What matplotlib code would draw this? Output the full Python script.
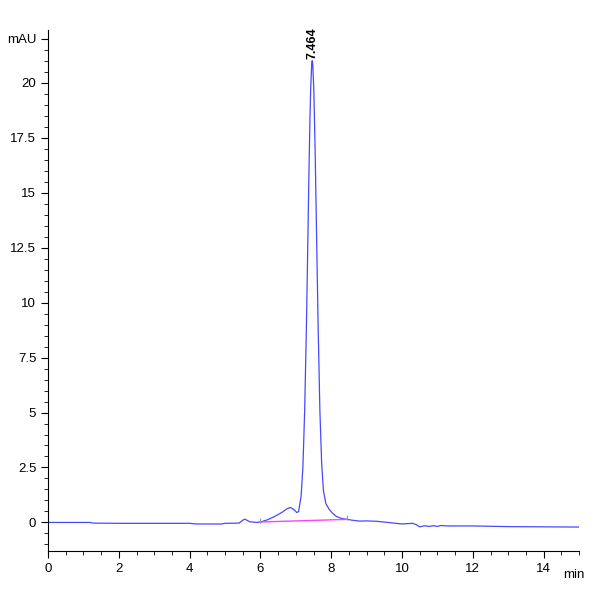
import numpy as np
import matplotlib.pyplot as plt
from matplotlib.ticker import MultipleLocator

plt.rcParams['font.family'] = ['Liberation Sans', 'DejaVu Sans']

# chromatogram trace (time in min, signal in mAU)
time = [0.0, 1.2, 1.25, 2.0, 3.0, 4.0, 4.2, 4.9, 5.0, 5.4, 5.5, 5.56, 5.62, 5.7, 5.9,
        6.0, 6.2, 6.4, 6.6, 6.75, 6.85, 6.95, 7.03, 7.08, 7.1, 7.15, 7.2, 7.25, 7.3,
        7.33, 7.37, 7.4, 7.42, 7.45, 7.464, 7.48, 7.51, 7.55, 7.58, 7.63, 7.68, 7.73,
        7.78, 7.85, 7.95, 8.05, 8.15, 8.3, 8.45, 8.6, 8.8, 9.0, 9.3, 9.6, 10.0, 10.3,
        10.4, 10.5, 10.65, 10.75, 10.9, 11.0, 11.1, 11.3, 12.0, 13.0, 14.0, 15.0]
signal = [0.0, 0.0, -0.03, -0.04, -0.04, -0.04, -0.07, -0.07, -0.04, -0.03, 0.1, 0.15,
          0.1, 0.03, 0.0, 0.02, 0.12, 0.27, 0.45, 0.62, 0.68, 0.58, 0.45, 0.5, 0.7, 1.2,
          2.5, 5.05, 8.9, 11.8, 15.8, 18.4, 19.7, 20.87, 21.0, 20.83, 19.6, 16.6, 13.7,
          9.0, 5.1, 2.7, 1.45, 0.85, 0.58, 0.4, 0.27, 0.18, 0.14, 0.1, 0.06, 0.07, 0.05,
          0.0, -0.07, -0.04, -0.1, -0.2, -0.15, -0.18, -0.15, -0.18, -0.14, -0.16, -0.16,
          -0.19, -0.2, -0.21]

# integration baseline of the main peak
base_t = [6.0, 8.45]
base_y = [0.02, 0.14]

peak_time = 7.464
peak_height = 21.0

y_ticks = [0, 2.5, 5, 7.5, 10, 12.5, 15, 17.5, 20, 22]
y_labels = ['0', '2.5', '5', '7.5', '10', '12.5', '15', '17.5', '20', 'mAU']
x_ticks = [0, 2, 4, 6, 8, 10, 12, 14]

fig = plt.figure(figsize=(6, 6), dpi=100)
ax = fig.add_axes([0.08, 0.082, 0.885, 0.868])

ax.plot(time, signal, color='#4848ff', lw=0.9)
ax.plot(base_t, base_y, color='#ff40ff', lw=1.0)
ax.vlines(base_t, [b - 0.05 for b in base_y], [b + 0.2 for b in base_y],
          color='#999999', lw=0.8)

ax.text(peak_time, peak_height + 0.1, '%.3f' % peak_time, rotation=90,
        ha='center', va='bottom', fontsize=9, fontweight='bold')

ax.set_xlim(0, 15)
ax.set_ylim(-1.29, 22.4)
ax.set_xticks(x_ticks)
ax.set_yticks(y_ticks)
ax.set_yticklabels(y_labels)
ax.xaxis.set_minor_locator(MultipleLocator(0.5))
ax.yaxis.set_minor_locator(MultipleLocator(0.5))
ax.tick_params(which='major', direction='out', length=5, width=0.8, labelsize=9.5)
ax.tick_params(which='minor', direction='out', length=3, width=0.6)
ax.text(14.85, -2.1, 'min', ha='center', va='top', fontsize=9.5)

for s in ['top', 'right']:
    ax.spines[s].set_visible(False)

fig.savefig('out.png', dpi=100)
